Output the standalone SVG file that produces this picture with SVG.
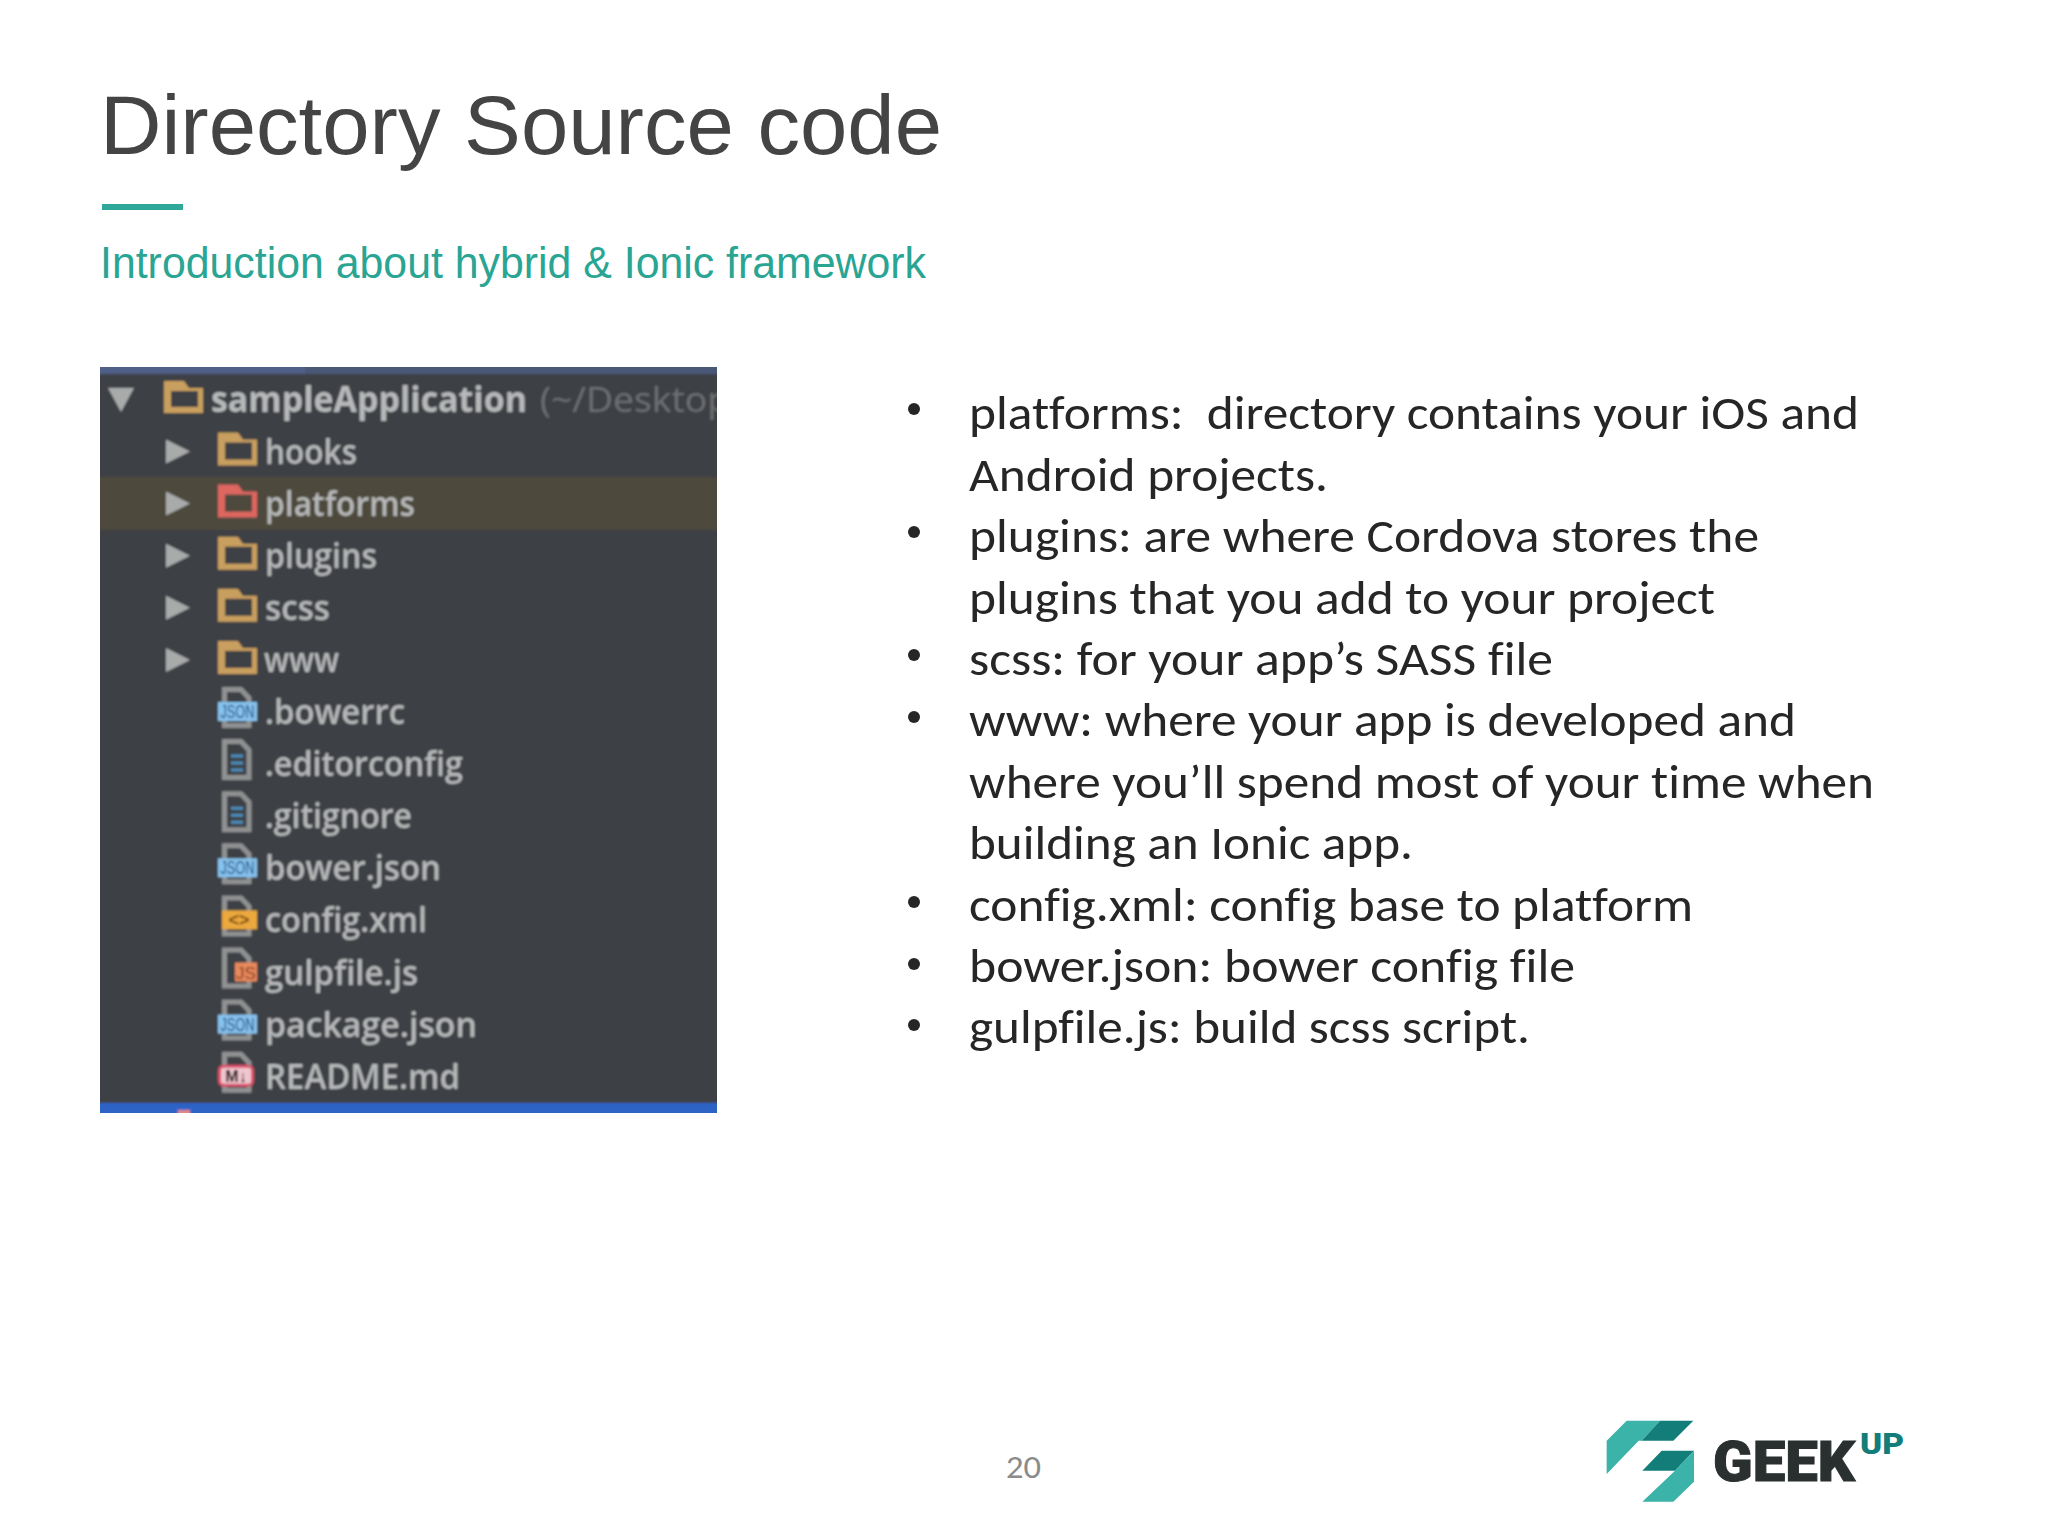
<svg xmlns="http://www.w3.org/2000/svg" xmlns:xlink="http://www.w3.org/1999/xlink" width="2048" height="1536" viewBox="0 0 2048 1536">
<style>
.b{font-family:Carlito,Lato,"Open Sans",sans-serif;font-size:47px;fill:#262626;white-space:pre;font-variant-ligatures:none}
.f{font-family:"Open Sans","DejaVu Sans",sans-serif;font-size:35px;font-weight:600;fill:#b7b9ba}
.tri{fill:#a9abab}
.fo{fill:#c99f5e}
.in{fill:#3c3f44}
.fi{fill:none;stroke:#8f9192;stroke-width:5}
.ln{stroke:#4d8fbd;stroke-width:3}
.tg{font-family:"Liberation Sans",sans-serif;font-size:18px;fill:#1f4f7c;text-anchor:middle}
</style>
<defs>
<clipPath id="pc"><rect x="100" y="367" width="617" height="746"/></clipPath>
<filter id="soft" x="-2%" y="-2%" width="104%" height="104%"><feGaussianBlur stdDeviation="0.8"/></filter>
<g id="tr"><path class="tri" d="M166,440 L190,452 L166,464Z"/></g>
<g id="folder"><path class="fo" d="M218,433 H238 L243,440 H257 V466 H218Z"/><rect class="in" x="225" y="443" width="27" height="17"/></g>
<g id="file"><path class="fi" d="M224.500,429.500 H241 L249,438 V465.500 H224.500Z"/></g>
<g id="json"><use xlink:href="#file"/><rect x="218" y="442" width="39" height="19" fill="#86c3ee"/><text class="tg" x="237.500" y="458" textLength="34" lengthAdjust="spacingAndGlyphs">JSON</text></g>
<g id="doc"><use xlink:href="#file"/><path class="ln" d="M231,444 H243 M231,451 H243 M231,458 H243"/></g>
</defs>
<rect width="2048" height="1536" fill="#ffffff"/>

<g id="title"><text x="100" y="154" font-family="Liberation Sans,Arial,sans-serif" font-size="84" fill="#444444" textLength="842" lengthAdjust="spacingAndGlyphs">Directory Source code</text></g>
<rect id="rule" x="102" y="204" width="81" height="6" fill="#2fa899"/>
<g id="subtitle"><text x="100" y="278" font-family="Liberation Sans,Arial,sans-serif" font-size="44" fill="#2aa593" textLength="826" lengthAdjust="spacingAndGlyphs">Introduction about hybrid &amp; Ionic framework</text></g>

<g id="screenshot" clip-path="url(#pc)">
<g filter="url(#soft)">
<rect x="98" y="365" width="622" height="751" fill="#3d3f44"/>
<rect x="98" y="365" width="622" height="9" fill="#4a5877"/>
<rect x="98" y="365" width="207" height="9" fill="#4f5f85"/>
<rect x="98" y="477" width="622" height="53" fill="#4e4a3c"/>
<rect x="98" y="1103" width="622" height="13" fill="#2f63c6"/>
<rect x="178" y="1110" width="12" height="6" fill="#e08a8a"/>

<path class="tri" d="M108,388 H134 L121,412Z"/>
<path class="fo" d="M164,381 H184 L189,388 H203 V413 H164Z"/><rect class="in" x="171" y="391" width="27" height="16"/>
<text x="211" y="412" class="f" style="font-weight:700" textLength="316" lengthAdjust="spacingAndGlyphs">sampleApplication</text>
<text x="540" y="412" class="f" style="fill:#6d7072;font-weight:400" textLength="190" lengthAdjust="spacingAndGlyphs">(~/Desktop</text>

<g transform="translate(0,-0.500)"><use xlink:href="#tr"/><use xlink:href="#folder"/>
<text x="265" y="464" class="f" textLength="92" lengthAdjust="spacingAndGlyphs">hooks</text></g>

<g transform="translate(0,51.600)"><use xlink:href="#tr"/>
<path d="M218,433 H238 L243,440 H257 V466 H218Z" fill="#dd6660"/><rect x="225" y="443" width="27" height="17" fill="#4e4a3c"/>
<text x="265" y="464" class="f" textLength="150" lengthAdjust="spacingAndGlyphs">platforms</text></g>
<g transform="translate(0,103.700)"><use xlink:href="#tr"/><use xlink:href="#folder"/>
<text x="265" y="464" class="f" textLength="112" lengthAdjust="spacingAndGlyphs">plugins</text></g>
<g transform="translate(0,155.800)"><use xlink:href="#tr"/><use xlink:href="#folder"/>
<text x="265" y="464" class="f" textLength="65" lengthAdjust="spacingAndGlyphs">scss</text></g>
<g transform="translate(0,207.900)"><use xlink:href="#tr"/><use xlink:href="#folder"/>
<text x="264" y="464" class="f" textLength="75" lengthAdjust="spacingAndGlyphs">www</text></g>

<g transform="translate(0,260)"><use xlink:href="#json"/>
<text x="265" y="464" class="f" textLength="140" lengthAdjust="spacingAndGlyphs">.bowerrc</text></g>
<g transform="translate(0,312.100)"><use xlink:href="#doc"/>
<text x="265" y="464" class="f" textLength="198" lengthAdjust="spacingAndGlyphs">.editorconfig</text></g>
<g transform="translate(0,364.200)"><use xlink:href="#doc"/>
<text x="265" y="464" class="f" textLength="147" lengthAdjust="spacingAndGlyphs">.gitignore</text></g>
<g transform="translate(0,416.300)"><use xlink:href="#json"/>
<text x="265" y="464" class="f" textLength="176" lengthAdjust="spacingAndGlyphs">bower.json</text></g>
<g transform="translate(0,468.400)"><use xlink:href="#file"/><rect x="222" y="442" width="35" height="19" fill="#eba93e"/>
<text class="tg" x="239" y="458" style="fill:#7a4c12" font-weight="700">&lt;&gt;</text>
<text x="265" y="464" class="f" textLength="162" lengthAdjust="spacingAndGlyphs">config.xml</text></g>
<g transform="translate(0,520.500)"><use xlink:href="#file"/><rect x="235" y="442" width="22" height="19" fill="#e9895c"/>
<text class="tg" x="246" y="458" style="fill:#7d3c20;font-size:17px">JS</text>
<text x="265" y="464" class="f" textLength="153" lengthAdjust="spacingAndGlyphs">gulpfile.js</text></g>
<g transform="translate(0,572.600)"><use xlink:href="#json"/>
<text x="265" y="464" class="f" textLength="212" lengthAdjust="spacingAndGlyphs">package.json</text></g>
<g transform="translate(0,624.700)"><use xlink:href="#file"/><rect x="219.500" y="441.500" width="33" height="19" rx="4" fill="#f0c6cf" stroke="#d9516a" stroke-width="3"/>
<text class="tg" x="236" y="457" style="fill:#111;font-size:16px" font-weight="700">M↓</text>
<text x="265" y="464" class="f" textLength="195" lengthAdjust="spacingAndGlyphs">README.md</text></g>
</g>
</g>

<g id="bullets">
<g fill="#262626"><circle cx="914" cy="409" r="6"/><circle cx="914" cy="532" r="6"/><circle cx="914" cy="655" r="6"/><circle cx="914" cy="717" r="6"/><circle cx="914" cy="902" r="6"/><circle cx="914" cy="964" r="6"/><circle cx="914" cy="1025" r="6"/></g>
<text class="b" x="969" y="429" textLength="890" lengthAdjust="spacingAndGlyphs">platforms:  directory contains your iOS and</text>
<text class="b" x="969" y="491" textLength="359" lengthAdjust="spacingAndGlyphs">Android projects.</text>
<text class="b" x="969" y="552" textLength="790" lengthAdjust="spacingAndGlyphs">plugins: are where Cordova stores the</text>
<text class="b" x="969" y="614" textLength="746" lengthAdjust="spacingAndGlyphs">plugins that you add to your project</text>
<text class="b" x="969" y="675" textLength="584" lengthAdjust="spacingAndGlyphs">scss: for your app’s SASS file</text>
<text class="b" x="969" y="736" textLength="827" lengthAdjust="spacingAndGlyphs">www: where your app is developed and</text>
<text class="b" x="969" y="798" textLength="905" lengthAdjust="spacingAndGlyphs">where you’ll spend most of your time when</text>
<text class="b" x="969" y="859" textLength="444" lengthAdjust="spacingAndGlyphs">building an Ionic app.</text>
<text class="b" x="969" y="921" textLength="724" lengthAdjust="spacingAndGlyphs">config.xml: config base to platform</text>
<text class="b" x="969" y="982" textLength="606" lengthAdjust="spacingAndGlyphs">bower.json: bower config file</text>
<text class="b" x="969" y="1043" textLength="561" lengthAdjust="spacingAndGlyphs">gulpfile.js: build scss script.</text>
</g>

<g id="page-number"><text x="1006" y="1478" font-family="Carlito,'Open Sans',sans-serif" font-size="32" fill="#8b8b8b" textLength="35" lengthAdjust="spacingAndGlyphs">20</text></g>

<g id="logo">
<g transform="translate(1580,1400) scale(0.3333)">
<path d="M140,62 H240 L185,122 H176 L80,222 V122Z" fill="#3bb3a8"/>
<path d="M240,62 H340 L280,122 H185Z" fill="#127d79"/>
<path d="M245,152 H342 L285,212 H187Z" fill="#127d79"/>
<path d="M342,152 V245 L280,305 H187 L285,212Z" fill="#3bb3a8"/>
</g>
<text x="1713" y="1481" font-family="Roboto,sans-serif" font-weight="900" font-size="56" fill="#2a2f2f" stroke="#2a2f2f" stroke-width="1" textLength="142" lengthAdjust="spacingAndGlyphs">GEEK</text>
<text x="1860" y="1454" font-family="Roboto,sans-serif" font-weight="900" font-size="30" fill="#127d79" textLength="44" lengthAdjust="spacingAndGlyphs">UP</text>
</g>
</svg>
